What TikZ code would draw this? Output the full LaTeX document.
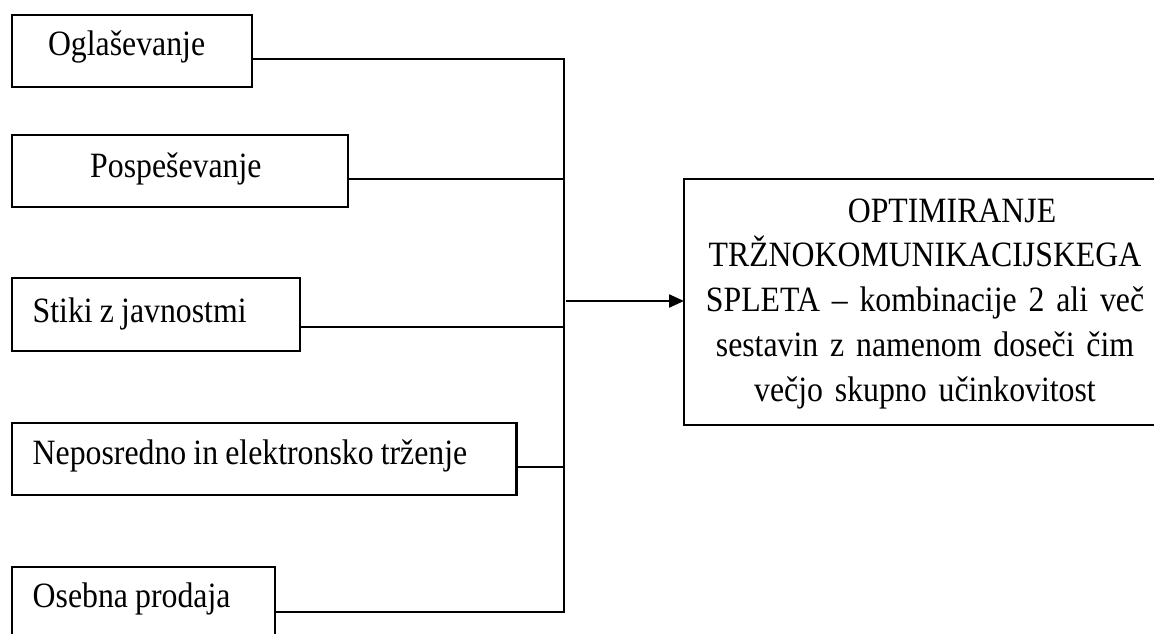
\documentclass[tikz,border=0pt]{standalone}
\usepackage{fontspec}
\setmainfont{Liberation Serif}[FakeStretch=0.893, WordSpace=0.9]
\usetikzlibrary{arrows.meta}
\begin{document}
\begin{tikzpicture}[x=1pt,y=-1pt,
  frame/.style={draw, line width=2.3pt, inner sep=0pt, outer sep=0pt, anchor=north west},
  lbl/.style={inner sep=0pt, anchor=base west, font=\fontsize{35.6}{44.8}\selectfont},
  wire/.style={line width=2.3pt},
  tip/.style={-{Triangle[length=15pt,width=13pt]}},
]
\clip (0,0) rectangle (1154,634);
\useasboundingbox (0,0) rectangle (1154,634);

% the five communication tools
\node[frame, minimum width=240pt, minimum height=72pt] (b1) at (12,14.7) {};
\node[frame, minimum width=336pt, minimum height=72pt] (b2) at (12,135) {};
\node[frame, minimum width=288pt, minimum height=72.7pt] (b3) at (12,278) {};
\node[frame, minimum width=504.6pt, minimum height=72pt] (b4) at (12,423) {};
\node[frame, minimum width=263.3pt, minimum height=100pt] (b5) at (12,566.7) {};

\node[lbl] (t1) at (47.8,56) {Oglaševanje};
\node[lbl] (t2) at (90,177) {Pospeševanje};
\node[lbl] (t3) at (32.5,322) {Stiki z javnostmi};
\node[lbl] (t4) at (32.5,464) {Neposredno in elektronsko trženje};
\node[lbl] (t5) at (32.5,607) {Osebna prodaja};

% the resulting mix
\node[frame, minimum width=520pt, minimum height=246pt] (big) at (684,179) {};
\node[lbl, anchor=base, text width=470pt, align=center] (tb) at (925,222)
  {\hspace*{54pt}OPTIMIRANJE\\
   TRŽNOKOMUNIKACIJSKEGA\\
   SPLETA – kombinacije 2 ali več\\
   sestavin z namenom doseči čim\\
   večjo skupno učinkovitost};

% collecting bus
\coordinate (j1) at (564,58.7);
\coordinate (j2) at (564,179);
\coordinate (j3) at (564,326.7);
\coordinate (j4) at (564,467.3);
\coordinate (j5) at (564,611.7);
\coordinate (ja) at (566,301);

\draw[wire] (b1.east |- j1) -- (j1) -- (j5) -- (b5.east |- j5);
\draw[wire] (b2.east |- j2) -- (j2);
\draw[wire] (b3.east |- j3) -- (j3);
\draw[wire] (b4.east |- j4) -- (j4);
\draw[wire, tip] (ja) -- (big.west |- ja);
\end{tikzpicture}
\end{document}
